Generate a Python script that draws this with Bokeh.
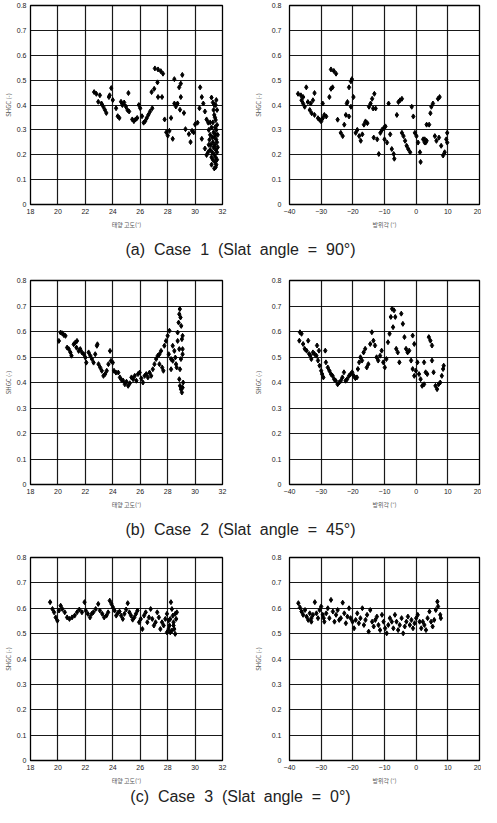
from bokeh.plotting import figure
from bokeh.layouts import column, row
from bokeh.models import Range1d, FixedTicker, Div
from bokeh.embed import file_html
from bokeh.resources import INLINE

# ---------------- data ----------------
Y_TICKS = [0, 0.1, 0.2, 0.3, 0.4, 0.5, 0.6, 0.7, 0.8]
Y_TICK_LABELS = ["0", "0.1", "0.2", "0.3", "0.4", "0.5", "0.6", "0.7", "0.8"]
ALT_TICKS = [18, 20, 22, 24, 26, 28, 30, 32]
AZI_TICKS = [-40, -30, -20, -10, 0, 10, 20]

ALT_LABEL = "태양 고도(°)"
AZI_LABEL = "방위각 (°)"
SHGC_LABEL = "SHGC (-)"

CAPTIONS = ["(a)  Case  1  (Slat  angle  =  90°)",
            "(b)  Case  2  (Slat  angle  =  45°)",
            "(c)  Case  3  (Slat  angle  =  0°)"]

# Case 1 : solar altitude vs SHGC
case1_alt = [22.64, 22.8, 23.06, 22.94, 23.18, 23.3, 23.42, 23.53, 23.72, 23.89, 23.77, 24.0, 24.24, 24.36,
             24.48, 24.6, 24.7, 24.83, 24.95, 25.14, 25.07, 25.19, 25.42, 25.54, 25.66, 25.78, 25.9, 26.0,
             26.13, 26.25, 26.36, 26.48, 26.6, 26.72, 26.88, 26.83, 27.02, 27.07, 27.3, 27.5, 27.66, 27.26,
             27.3, 27.59, 27.78, 27.9, 28.01, 28.13, 28.25, 28.37, 28.49, 28.49, 28.6, 28.72, 28.84, 28.96,
             29.07, 28.96, 29.19, 28.9, 29.3, 29.55, 29.67, 29.78, 29.9, 30.0, 30.18, 30.37, 30.49, 30.32,
             30.6, 30.72, 30.84, 30.96, 30.49, 30.72, 30.84,
             31.0, 31.05, 31.1, 31.1, 31.15, 31.2, 31.2, 31.25, 31.25, 31.3, 31.3, 31.3, 31.35, 31.35, 31.4,
             31.4, 31.4, 31.45, 31.45, 31.45, 31.5, 31.5, 31.5, 31.5, 31.5, 31.55, 31.55, 31.55, 31.55, 31.6,
             31.6, 31.6, 31.6, 31.6, 31.4, 31.3, 31.2, 31.35, 31.45, 31.1, 31.0, 30.95, 31.65, 31.65, 31.5,
             31.2, 31.4]
case1_alt_shgc = [0.452, 0.445, 0.439, 0.413, 0.406, 0.394, 0.381, 0.368, 0.432, 0.468, 0.439, 0.42, 0.387,
                  0.355, 0.348, 0.413, 0.40, 0.41, 0.394, 0.448, 0.38, 0.374, 0.342, 0.335, 0.342, 0.348,
                  0.40, 0.387, 0.355, 0.329, 0.335, 0.348, 0.361, 0.374, 0.387, 0.452, 0.465, 0.547, 0.543,
                  0.536, 0.526, 0.491, 0.432, 0.432, 0.342, 0.29, 0.277, 0.296, 0.348, 0.264, 0.504, 0.406,
                  0.394, 0.406, 0.471, 0.486, 0.521, 0.432, 0.368, 0.381, 0.303, 0.283, 0.251, 0.296, 0.29,
                  0.322, 0.329, 0.471, 0.432, 0.387, 0.406, 0.374, 0.342, 0.329, 0.264, 0.225, 0.199,
                  0.30, 0.26, 0.22, 0.28, 0.24, 0.31, 0.19, 0.27, 0.21, 0.33, 0.25, 0.18, 0.29, 0.23, 0.36,
                  0.27, 0.20, 0.31, 0.24, 0.17, 0.40, 0.34, 0.28, 0.22, 0.19, 0.42, 0.30, 0.26, 0.16, 0.38,
                  0.32, 0.25, 0.21, 0.18, 0.40, 0.41, 0.43, 0.38, 0.35, 0.33, 0.24, 0.21, 0.28, 0.23, 0.15,
                  0.16, 0.145]

# Case 1 : azimuth vs SHGC
case1_azi = [-37.3, -36.4, -35.7, -34.7, -36.2, -35.7, -35.2, -34.2, -33.6, -33.3, -32.6, -32.1, -33.0, -32.1,
             -31.0, -30.5, -30.0, -29.5, -29.0, -28.4, -29.5, -27.4, -26.9, -26.4, -26.9, -26.0, -25.3, -24.8,
             -23.8, -23.2, -22.7, -22.2, -21.9, -21.7, -21.2, -20.6, -20.3, -20.6, -21.2, -19.8, -19.1, -18.6,
             -18.0, -17.5, -17.0, -16.5, -16.0, -15.4, -14.9, -14.4, -13.9, -13.2, -13.6, -12.8, -13.4, -12.3,
             -11.8, -11.3, -10.8, -10.2, -9.7, -10.0, -9.2, -8.7, -8.2, -7.7, -7.1, -6.9, -6.1, -5.6, -5.1,
             -4.5, -4.5, -4.0, -3.5, -3.0, -2.5, -1.9, -1.4, -0.9, -0.4, 0.1, 0.6, 1.2, 1.4, 2.2, 2.7, 3.3,
             3.3, 4.1, 4.5, 4.8, 5.3, 6.9, 7.4, 5.9, 6.4, 7.2, 7.9, 8.5, 9.0, 9.5, 9.8, 9.8, 2.7, 3.0]
case1_azi_shgc = [0.445, 0.439, 0.432, 0.471, 0.419, 0.406, 0.393, 0.412, 0.38, 0.406, 0.419, 0.448, 0.367,
                  0.36, 0.347, 0.341, 0.334, 0.347, 0.36, 0.354, 0.406, 0.432, 0.465, 0.471, 0.543, 0.537,
                  0.526, 0.341, 0.288, 0.275, 0.321, 0.36, 0.406, 0.412, 0.471, 0.495, 0.504, 0.393, 0.354,
                  0.432, 0.288, 0.30, 0.275, 0.256, 0.282, 0.321, 0.334, 0.327, 0.393, 0.406, 0.425, 0.445,
                  0.386, 0.386, 0.269, 0.262, 0.203, 0.288, 0.30, 0.308, 0.314, 0.262, 0.249, 0.406, 0.282,
                  0.223, 0.203, 0.184, 0.36, 0.412, 0.419, 0.425, 0.288, 0.275, 0.256, 0.236, 0.223, 0.21,
                  0.393, 0.354, 0.288, 0.275, 0.249, 0.21, 0.171, 0.262, 0.249, 0.256, 0.321, 0.321, 0.367,
                  0.393, 0.406, 0.425, 0.432, 0.275, 0.256, 0.269, 0.236, 0.197, 0.21, 0.262, 0.288, 0.249,
                  0.262, 0.249]

# Case 2 : solar altitude vs SHGC
case2_alt = [20.07, 20.19, 20.31, 20.43, 20.55, 20.67, 20.79, 20.91, 20.99, 21.15, 21.27, 21.39, 21.35, 21.51,
             21.63, 21.75, 21.88, 22.0, 22.07, 22.24, 22.36, 22.48, 22.6, 22.72, 22.84, 22.88, 22.96, 23.08,
             23.2, 23.32, 23.44, 23.56, 23.68, 23.8, 23.87, 24.0, 24.09, 24.23, 24.4, 24.52, 24.64, 24.76,
             24.88, 25.0, 25.12, 25.24, 25.36, 25.48, 25.6, 25.72, 25.84, 25.96, 26.08, 26.2, 26.32, 26.44,
             26.56, 26.68, 26.8, 26.92, 27.04, 27.16, 27.28, 27.4, 27.52, 27.4, 27.6, 27.69, 27.76, 27.88,
             28.0, 28.13, 28.08, 28.25, 28.37, 28.49, 28.56, 28.61, 28.66, 28.73, 28.8, 28.85, 28.89, 28.94,
             28.99, 29.04, 29.09, 29.09, 28.97, 28.9, 28.85, 28.9, 28.97, 29.04, 29.09, 29.13, 29.09, 28.73,
             28.37, 28.25, 28.85]
case2_alt_shgc = [0.563, 0.596, 0.593, 0.586, 0.583, 0.537, 0.531, 0.518, 0.505, 0.55, 0.557, 0.563, 0.537,
                  0.524, 0.531, 0.518, 0.511, 0.498, 0.478, 0.518, 0.505, 0.492, 0.478, 0.511, 0.544, 0.55,
                  0.472, 0.459, 0.446, 0.426, 0.433, 0.446, 0.472, 0.524, 0.485, 0.478, 0.446, 0.439, 0.439,
                  0.42, 0.41, 0.407, 0.393, 0.403, 0.387, 0.397, 0.42, 0.413, 0.426, 0.407, 0.433, 0.439,
                  0.416, 0.40, 0.426, 0.433, 0.42, 0.439, 0.426, 0.452, 0.472, 0.492, 0.505, 0.511, 0.524,
                  0.472, 0.459, 0.446, 0.544, 0.563, 0.583, 0.603, 0.511, 0.492, 0.485, 0.524, 0.498, 0.472,
                  0.459, 0.596, 0.635, 0.668, 0.688, 0.655, 0.622, 0.57, 0.531, 0.511, 0.492, 0.452, 0.413,
                  0.387, 0.374, 0.361, 0.38, 0.40, 0.583, 0.563, 0.544, 0.452, 0.531]

# Case 2 : azimuth vs SHGC
case2_azi = [-36.7, -36.2, -36.9, -35.7, -35.2, -34.6, -34.1, -33.8, -33.4, -33.1, -32.6, -32.1, -31.5, -31.3,
             -31.0, -30.7, -30.5, -30.0, -29.7, -29.3, -28.7, -28.5, -27.9, -27.4, -26.9, -26.4, -25.9, -25.4,
             -24.8, -24.3, -23.8, -23.3, -22.8, -22.3, -21.8, -21.2, -20.7, -20.2, -19.7, -19.2, -18.7, -18.4,
             -18.0, -17.6, -17.1, -16.6, -16.1, -15.6, -15.1, -14.5, -14.0, -13.5, -13.0, -12.5, -12.0, -11.4,
             -10.9, -10.4, -9.9, -9.4, -8.9, -8.4, -8.0, -7.6, -7.0, -6.6, -7.3, -6.3, -5.8, -5.3, -4.7, -4.2,
             -3.7, -3.2, -2.7, -2.2, -1.6, -1.1, -0.6, -0.1, 0.4, 0.9, 1.4, 1.9, 2.5, 3.0, 3.5, 4.0, 4.5, 5.0,
             5.5, 6.1, 6.6, 7.1, 7.6, 8.1, 8.5, 8.7, -1.1, -0.6, 2.5, 5.0]
case2_azi_shgc = [0.597, 0.591, 0.564, 0.551, 0.532, 0.525, 0.564, 0.512, 0.505, 0.492, 0.518, 0.512, 0.505,
                  0.545, 0.486, 0.525, 0.466, 0.446, 0.433, 0.42, 0.525, 0.479, 0.459, 0.446, 0.433, 0.426,
                  0.413, 0.407, 0.393, 0.40, 0.407, 0.42, 0.44, 0.407, 0.413, 0.426, 0.433, 0.44, 0.426,
                  0.417, 0.42, 0.453, 0.479, 0.499, 0.486, 0.518, 0.532, 0.459, 0.472, 0.551, 0.597, 0.564,
                  0.545, 0.499, 0.486, 0.505, 0.525, 0.479, 0.459, 0.492, 0.558, 0.591, 0.657, 0.689, 0.683,
                  0.657, 0.617, 0.532, 0.518, 0.479, 0.670, 0.630, 0.578, 0.532, 0.518, 0.525, 0.486, 0.453,
                  0.426, 0.446, 0.479, 0.433, 0.413, 0.387, 0.393, 0.44, 0.433, 0.578, 0.564, 0.486, 0.44,
                  0.387, 0.374, 0.393, 0.40, 0.426, 0.453, 0.466, 0.584, 0.551, 0.479, 0.545]

# Case 3 : solar altitude vs SHGC
case3_alt = [19.43, 19.6, 19.72, 19.84, 19.96, 20.08, 20.2, 20.32, 20.5, 20.67, 20.84, 21.03, 21.22, 21.39,
             21.56, 21.75, 21.94, 22.03, 22.18, 22.34, 22.46, 22.58, 22.75, 22.94, 23.06, 23.23, 23.37, 23.54,
             23.66, 23.78, 23.9, 24.01, 24.13, 24.25, 24.37, 24.49, 24.61, 24.73, 24.85, 24.97, 25.09, 25.21,
             25.33, 25.45, 25.57, 25.69, 25.8, 25.92, 26.04, 26.16, 26.28, 26.4, 26.52, 26.64, 26.76, 26.88,
             27.0, 27.12, 27.24, 27.36, 27.47, 27.59, 27.71, 27.83, 27.95, 28.07, 28.14, 28.19, 28.24, 28.31,
             28.38, 28.43, 28.48, 28.55, 28.62, 28.67, 28.31, 28.43, 28.55, 28.19, 28.07, 27.95]
case3_alt_shgc = [0.624, 0.597, 0.584, 0.564, 0.551, 0.591, 0.61, 0.597, 0.584, 0.564, 0.558, 0.564, 0.571,
                  0.584, 0.595, 0.584, 0.624, 0.591, 0.578, 0.564, 0.578, 0.584, 0.597, 0.617, 0.591, 0.578,
                  0.564, 0.571, 0.584, 0.63, 0.617, 0.604, 0.591, 0.571, 0.582, 0.587, 0.571, 0.558, 0.578,
                  0.595, 0.62, 0.584, 0.571, 0.555, 0.564, 0.578, 0.591, 0.545, 0.558, 0.518, 0.571, 0.584,
                  0.545, 0.564, 0.597, 0.558, 0.532, 0.545, 0.584, 0.564, 0.518, 0.545, 0.532, 0.558, 0.578,
                  0.551, 0.532, 0.505, 0.624, 0.597, 0.571, 0.545, 0.518, 0.499, 0.558, 0.584, 0.512, 0.532,
                  0.578, 0.558, 0.518, 0.505]

# Case 3 : azimuth vs SHGC
case3_azi = [-37.2, -36.7, -36.2, -35.7, -35.1, -34.6, -34.1, -33.6, -33.1, -32.6, -32.0, -31.5, -31.0, -30.5,
             -30.0, -29.5, -29.0, -28.4, -27.9, -27.4, -26.9, -26.3, -25.8, -25.3, -24.8, -24.3, -23.8, -23.2,
             -22.7, -22.2, -21.7, -21.2, -20.7, -20.1, -19.6, -19.1, -18.6, -18.1, -17.6, -17.0, -16.5, -16.0,
             -15.5, -15.0, -14.5, -13.9, -13.4, -12.9, -12.4, -11.9, -11.4, -10.8, -10.3, -9.8, -9.3, -8.8,
             -8.3, -7.7, -7.2, -6.7, -6.2, -5.7, -5.2, -4.6, -4.1, -3.6, -3.1, -2.6, -2.0, -1.5, -1.0, -0.5,
             0.0, 0.5, 1.1, 1.6, 2.1, 2.6, 3.1, 3.6, 4.2, 4.7, 5.2, 5.7, 6.2, 6.7, 6.9, 7.6, 7.8, -33.1, -29.2]
case3_azi_shgc = [0.62, 0.603, 0.587, 0.574, 0.593, 0.567, 0.554, 0.58, 0.561, 0.574, 0.624, 0.58, 0.561,
                  0.593, 0.607, 0.574, 0.547, 0.58, 0.60, 0.561, 0.633, 0.587, 0.547, 0.574, 0.593, 0.554,
                  0.561, 0.622, 0.58, 0.541, 0.567, 0.60, 0.561, 0.547, 0.521, 0.554, 0.58, 0.541, 0.561,
                  0.60, 0.534, 0.554, 0.574, 0.508, 0.593, 0.547, 0.528, 0.554, 0.567, 0.534, 0.514, 0.574,
                  0.547, 0.521, 0.501, 0.534, 0.561, 0.547, 0.521, 0.574, 0.547, 0.514, 0.534, 0.561, 0.501,
                  0.528, 0.547, 0.567, 0.534, 0.554, 0.521, 0.541, 0.561, 0.574, 0.547, 0.521, 0.547, 0.534,
                  0.514, 0.561, 0.587, 0.547, 0.528, 0.554, 0.593, 0.626, 0.607, 0.574, 0.561, 0.547, 0.561]

# ---------------- drawing ----------------
TICK_FONT = "Liberation Sans"
LABEL_FONT = "Noto Sans CJK KR"


def make_fig(xs, ys, xr, xticks, xlabel, width, height, bl, br, bt, bb, ystand, ylabstand):
    p = figure(width=width, height=height, x_range=Range1d(xr[0], xr[1]), y_range=Range1d(0, 0.8),
               output_backend="svg", toolbar_location=None,
               min_border_left=bl, min_border_right=br, min_border_top=bt, min_border_bottom=bb)
    p.background_fill_color = "white"
    p.border_fill_color = "white"
    p.outline_line_color = "black"
    p.outline_line_width = 1.3

    p.xaxis.ticker = FixedTicker(ticks=xticks)
    p.yaxis.ticker = FixedTicker(ticks=Y_TICKS)
    p.yaxis.major_label_overrides = {t: s for t, s in zip(Y_TICKS, Y_TICK_LABELS)}
    for ax in (p.xaxis, p.yaxis):
        ax.major_tick_out = 0
        ax.major_tick_in = 0
        ax.minor_tick_out = 0
        ax.minor_tick_in = 0
        ax.axis_line_color = "black"
        ax.major_label_text_font = TICK_FONT
        ax.major_label_text_font_size = "7px"
        ax.major_label_text_color = "#222222"
        ax.axis_label_text_font = LABEL_FONT
        ax.axis_label_text_font_size = "6px"
        ax.axis_label_text_font_style = "normal"
        ax.axis_label_text_color = "#555555"
    p.xaxis.major_label_standoff = 4
    p.xaxis.axis_label_standoff = 3
    p.yaxis.major_label_standoff = ystand
    p.yaxis.axis_label_standoff = ylabstand
    p.xaxis.axis_label = xlabel
    p.yaxis.axis_label = SHGC_LABEL

    p.xgrid.ticker = FixedTicker(ticks=xticks)
    p.ygrid.ticker = FixedTicker(ticks=Y_TICKS)
    for g in (p.xgrid, p.ygrid):
        g.grid_line_color = "black"
        g.grid_line_width = 1.2
        g.grid_line_alpha = 0.9

    p.scatter(xs, ys, marker="diamond", size=5, color="black")
    return p


def caption(text):
    html = ('<div style="width:481px;text-align:center;font-family:\'Liberation Sans\';'
            'font-size:16px;line-height:18px;color:#222222;white-space:pre;">' + text + '</div>')
    return Div(text=html, width=481, height=18, margin=(0, 0, 0, 0))


LW, RW = 243, 238
rows_spec = [
    # (height, top, bottom)
    (241, 5, 37),
    (262, 21, 37),
    (249, 18, 28),
]
data = [
    (case1_alt, case1_alt_shgc, case1_azi, case1_azi_shgc),
    (case2_alt, case2_alt_shgc, case2_azi, case2_azi_shgc),
    (case3_alt, case3_alt_shgc, case3_azi, case3_azi_shgc),
]

items = []
for (h, bt, bb), (ax_, ay_, zx_, zy_), cap in zip(rows_spec, data, CAPTIONS):
    left = make_fig(ax_, ay_, (18, 32), ALT_TICKS, ALT_LABEL, LW, h, 27, 21, bt, bb, 4, 1)
    right = make_fig(zx_, zy_, (-40, 20), AZI_TICKS, AZI_LABEL, RW, h, 46, 2, bt, bb, 8, 6)
    items.append(row(left, right, spacing=0))
    items.append(caption(cap))

layout = column(*items, spacing=0)

open("out.html", "w").write(file_html(layout, INLINE))
